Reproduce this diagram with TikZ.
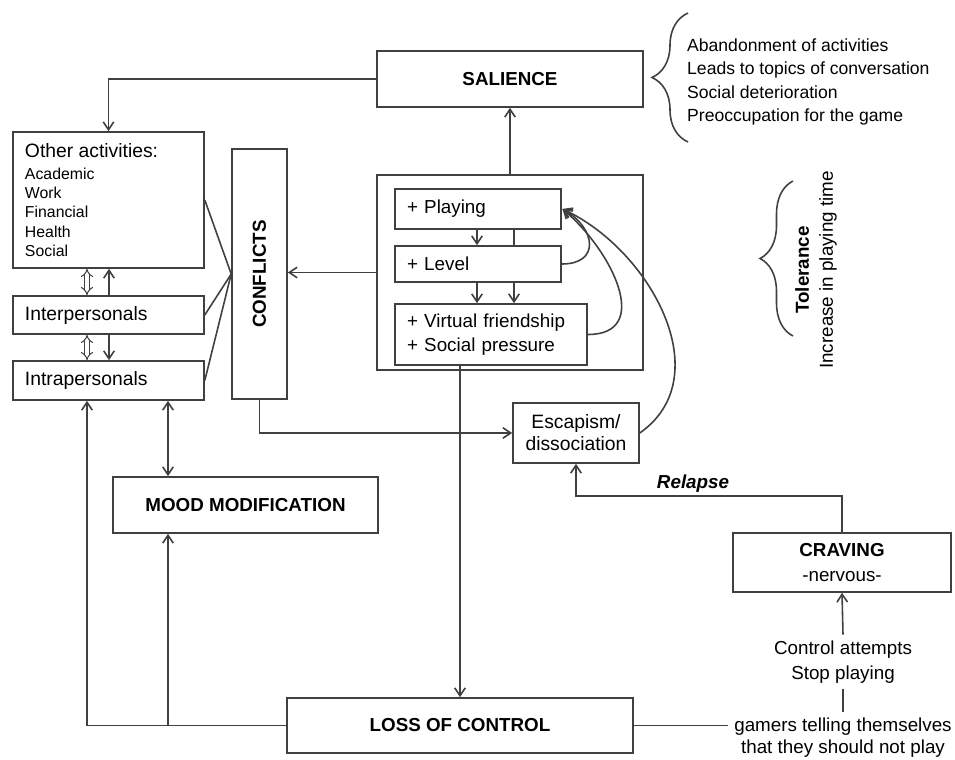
\documentclass[tikz,border=0pt]{standalone}
\usepackage{fontspec}
\setmainfont{Liberation Sans}
\usetikzlibrary{arrows.meta,decorations.pathreplacing}
\newdimen\pxu
\pxu=0.2mm

\begin{document}
\begin{tikzpicture}[x=0.2mm,y=0.2mm,
  every node/.style={font=\fontsize{10.7}{13.6}\selectfont},
  box/.style={draw=black!75, line width=0.9pt, align=center, inner sep=2pt},
  lbox/.style={box, align=left, inner xsep=12\pxu},
  bftx/.style={font=\fontsize{10.7}{13.6}\selectfont\bfseries},
  ln/.style={draw=black!75, line width=0.9pt},
  arr/.style={ln, -{Straight Barb[length=4.5pt,width=6pt]}},
  arrs/.style={ln, {Straight Barb[length=4.5pt,width=6pt]}-{Straight Barb[length=4.5pt,width=6pt]}},
  dbl/.style={draw=black!75, line width=0.6pt, double, double distance=1.8pt, {Implies}-{Implies}},
  brc/.style={ln, decorate, decoration={brace, amplitude=#1}}]
\useasboundingbox (0,0) rectangle (955,-760);
% boxes
\node[box, bftx, minimum width=266\pxu, minimum height=56\pxu] (sal) at (510,-79) {SALIENCE};
\node[lbox, text width=167\pxu, minimum height=136\pxu, font=\fontsize{9}{11}\selectfont] (oth) at (108.5,-200)
  {{\fontsize{11}{11}\selectfont Other activities:}\\[1.5pt]Academic\\Work\\Financial\\Health\\Social};
\node[lbox, text width=167\pxu, minimum height=38\pxu, font=\fontsize{11}{13}\selectfont] (inter) at (108.5,-315) {Interpersonals};
\node[lbox, text width=167\pxu, minimum height=39\pxu, font=\fontsize{11}{13}\selectfont] (intra) at (108.5,-380.5) {Intrapersonals};
\node[box, minimum width=55\pxu, minimum height=250\pxu, label={[rotate=90, bftx]center:CONFLICTS}] (conf) at (259.5,-274) {};
\node[box, minimum width=266\pxu, minimum height=195\pxu] (game) at (510,-272.5) {};
\node[lbox, line width=1.7pt, text width=142\pxu, minimum height=40\pxu] (play) at (478,-209) {+ Playing};
\node[lbox, text width=142\pxu, minimum height=36\pxu] (lvl) at (478,-264) {+ Level};
\node[lbox, text width=168\pxu, minimum height=61\pxu] (virt) at (491,-334.5) {+ Virtual friendship\\+ Social pressure};
\node[box, minimum width=126\pxu, minimum height=60\pxu, font=\fontsize{11}{12.5}\selectfont] (esc) at (576,-433) {Escapism/\\dissociation};
\node[box, bftx, minimum width=265\pxu, minimum height=56\pxu] (mood) at (245.5,-505) {MOOD MODIFICATION};
\node[box, bftx, minimum width=346\pxu, minimum height=55\pxu] (loss) at (460,-725.5) {LOSS OF CONTROL};
\node[box, minimum width=218\pxu, minimum height=59\pxu, font=\fontsize{10.7}{14.2}\selectfont] (crav) at (842,-562.5) {\textbf{CRAVING}\\-nervous-};
% free texts
\node[align=center, font=\fontsize{10.7}{14.2}\selectfont] (ctrl) at (843,-662) {Control attempts\\Stop playing};
\node[align=center, font=\fontsize{10.7}{12.5}\selectfont] (gamers) at (843,-738) {gamers telling themselves\\that they should not play};
\node[align=left, anchor=west, font=\fontsize{10}{13.4}\selectfont] (sallist) at (681,-82)
  {Abandonment of activities\\Leads to topics of conversation\\Social deterioration\\Preoccupation for the game};
\node[rotate=90, align=center] (tol) at (816,-270) {\textbf{Tolerance}\\Increase in playing time};
% braces
\draw[brc=36\pxu] (688,-142) -- (688,-13);
\draw[brc=33\pxu] (793,-336) -- (793,-181);
% x positions of the vertical links
\coordinate (xa) at (87,0);
\coordinate (xb) at (109,0);
\coordinate (xc) at (168,0);
\coordinate (xd) at (477,0);
\coordinate (xe) at (514,0);
% links
\draw[arr] (sal.west) -| (oth.north);
\draw[arr] (game.north) -- (sal.south);
\draw[arr] (game.west) -- (game.west -| conf.east);
\draw[ln] (oth.east) -- (conf.west);
\draw[ln] (inter.east) -- (conf.west);
\draw[ln] (intra.east) -- (conf.west);
\draw[dbl] (oth.south -| xa) -- (inter.north -| xa);
\draw[arr] (inter.north -| xb) -- (oth.south -| xb);
\draw[dbl] (inter.south -| xa) -- (intra.north -| xa);
\draw[arr] (inter.south -| xb) -- (intra.north -| xb);
\draw[arrs] (intra.south -| xc) -- (mood.north -| xc);
\draw[arr] (loss.west) -| (intra.south -| xa);
\draw[arr] (loss.west -| xc) -- (mood.south -| xc);
\draw[arr] (conf.south) |- (esc.west);
\draw[arr] (virt.south -| loss.north) -- (loss.north);
\draw[arr] (play.south -| xd) -- (lvl.north -| xd);
\draw[ln] (play.south -| xe) -- (lvl.north -| xe);
\draw[arr] (lvl.south -| xd) -- (virt.north -| xd);
\draw[arr] (lvl.south -| xe) -- (virt.north -| xe);
\draw[arr] (lvl.east) to[out=0, in=-30, looseness=1.8] (play.east);
\draw[arr] (virt.east) to[out=0, in=-40, looseness=1.3] (play.east);
\draw[arr] (esc.east) to[out=35, in=-25, looseness=1.05] (play.east);
\draw[arr] (crav.north) -- ++(0,36) -| node[pos=0.28, above, inner sep=1.5pt, font=\fontsize{10.7}{13}\selectfont\bfseries\itshape] (rel) {Relapse} (esc.south);
\draw[arr] (ctrl.north) -- (crav.south);
\draw[ln] (ctrl.south) -- (gamers.north);
\draw[ln] (loss.east) -- (loss.east -| gamers.west);
\end{tikzpicture}
\end{document}
